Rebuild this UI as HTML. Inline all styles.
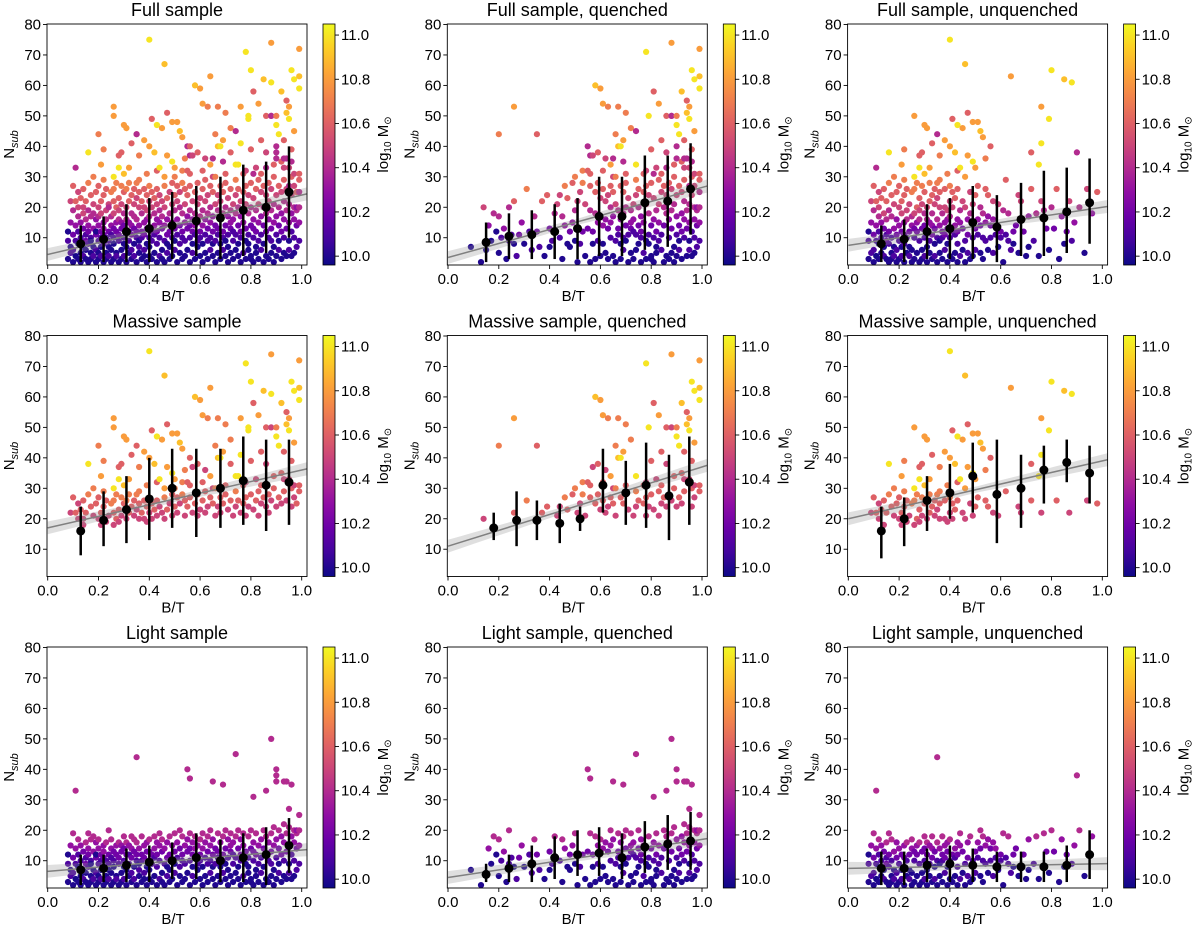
<!DOCTYPE html>
<html><head><meta charset="utf-8"><style>
html,body{margin:0;padding:0;background:#fff;}
svg{display:block;font-family:"Liberation Sans","DejaVu Sans",sans-serif;}
</style></head><body>
<svg id="fig" width="1200" height="931" viewBox="0 0 1200 931" xmlns="http://www.w3.org/2000/svg">
<defs>
<linearGradient id="plasma" x1="0" y1="1" x2="0" y2="0">
<stop offset="0" stop-color="#0d0887"/><stop offset="0.1" stop-color="#41049d"/><stop offset="0.2" stop-color="#6a00a8"/><stop offset="0.3" stop-color="#8f0da4"/><stop offset="0.4" stop-color="#b12a90"/><stop offset="0.5" stop-color="#cc4778"/><stop offset="0.6" stop-color="#e16462"/><stop offset="0.7" stop-color="#f2844b"/><stop offset="0.8" stop-color="#fca636"/><stop offset="0.9" stop-color="#fcce25"/><stop offset="1" stop-color="#f0f921"/>
</linearGradient>
</defs>
</svg>
<script>
// ---- data ----
const galaxyColumns = [
[0.08,[[3,10.0,0],[9,10.1,0],[12,10.0,0]]],
[0.09,[[5,10.1,0],[15,10.3,0],[22,10.5,0],[7,10.0,1]]],
[0.10,[[2,10.0,0],[11,10.2,0],[19,10.4,0],[27,10.6,0],[6,10.1,0]]],
[0.11,[[4,9.98,0],[14,10.3,0],[33,10.4,0],[9,10.1,0],[22,10.6,0]]],
[0.12,[[3,10.0,0],[8,10.0,0],[17,10.4,0],[12,10.1,0],[25,10.5,0],[20,10.5,0]]],
[0.13,[[5,10.0,0],[10,10.1,0],[15,10.3,0],[2,10.0,1],[23,10.6,0]]],
[0.14,[[4,10.1,0],[13,10.2,0],[18,10.5,0],[7,10.0,0],[26,10.6,0],[20,10.5,1]]],
[0.15,[[3,10.0,0],[9,10.2,0],[16,10.4,0],[11,10.1,0],[22,10.6,0],[6,10.0,1]]],
[0.16,[[2,10.0,0],[12,10.2,0],[19,10.4,0],[8,10.1,0],[28,10.7,0],[14,10.3,1],[38,11.0,0]]],
[0.17,[[5,10.0,0],[10,10.1,0],[24,10.6,0],[17,10.4,0],[3,10.0,0],[9,10.0,1]]],
[0.18,[[4,10.1,0],[13,10.3,0],[21,10.5,0],[7,10.0,0],[18,10.4,1],[30,10.7,0]]],
[0.19,[[2,10.0,0],[11,10.2,0],[16,10.3,0],[25,10.6,0],[6,10.1,0],[12,10.0,1]]],
[0.20,[[3,10.0,0],[9,10.1,0],[14,10.3,0],[20,10.5,0],[27,10.6,0],[5,10.0,1],[17,10.4,1],[44,10.7,1]]],
[0.21,[[7,10.0,0],[12,10.2,0],[22,10.6,0],[4,10.1,0],[18,10.5,0],[10,10.1,1],[34,10.8,0]]],
[0.22,[[2,10.0,0],[8,10.1,0],[15,10.3,0],[24,10.6,0],[11,10.2,0],[13,10.3,1],[29,10.7,0],[39,10.7,0]]],
[0.23,[[5,10.0,0],[10,10.1,0],[19,10.5,0],[3,10.0,1],[26,10.6,0],[16,10.4,0]]],
[0.24,[[4,10.1,0],[12,10.2,0],[21,10.5,0],[7,10.0,0],[9,10.1,1],[20,10.4,1]]],
[0.25,[[2,10.0,0],[14,10.3,0],[17,10.4,0],[25,10.7,0],[6,10.0,0],[11,10.1,1]]],
[0.26,[[3,10.0,0],[10,10.1,0],[18,10.5,0],[26,10.7,0],[13,10.2,0],[8,10.0,1],[22,10.6,1],[53,10.8,1],[50,10.8,0],[30,11.0,0]]],
[0.27,[[5,10.0,0],[12,10.2,0],[20,10.6,0],[15,10.3,0],[28,10.7,0],[4,10.1,1]]],
[0.28,[[2,10.0,0],[9,10.1,0],[16,10.4,0],[23,10.6,0],[11,10.2,1],[19,10.5,0],[37,10.6,0],[33,11.0,0]]],
[0.29,[[6,10.0,0],[13,10.2,0],[21,10.5,0],[3,10.0,0],[27,10.7,0],[15,10.3,1],[38,10.6,0]]],
[0.30,[[4,10.1,0],[10,10.1,0],[18,10.4,0],[25,10.6,0],[8,10.0,1],[14,10.2,0],[47,10.8,0],[31,10.9,0]]],
[0.31,[[2,10.0,0],[12,10.2,0],[20,10.5,0],[7,10.0,0],[26,10.7,1],[16,10.4,0],[46,10.8,0]]],
[0.32,[[5,10.0,0],[9,10.1,0],[15,10.3,0],[22,10.6,0],[12,10.1,1],[28,10.7,0],[33,10.8,0]]],
[0.33,[[3,10.0,0],[11,10.2,0],[18,10.4,0],[24,10.6,0],[6,10.1,1],[14,10.3,0],[41,10.6,0]]],
[0.34,[[4,10.1,0],[13,10.2,0],[21,10.5,0],[8,10.0,0],[17,10.4,1],[26,10.6,0]]],
[0.35,[[2,10.0,0],[10,10.1,0],[16,10.4,0],[23,10.5,0],[12,10.2,1],[28,10.7,0],[44,10.6,1],[44,10.4,0]]],
[0.36,[[5,10.0,0],[9,10.0,0],[14,10.3,0],[20,10.5,0],[7,10.1,1],[25,10.6,0],[37,10.7,0],[29,10.7,0]]],
[0.37,[[3,10.0,0],[12,10.2,0],[18,10.4,0],[22,10.6,1],[10,10.1,0]]],
[0.38,[[6,10.1,0],[11,10.2,0],[15,10.3,0],[26,10.6,0],[4,10.0,1],[20,10.5,0],[42,10.8,0]]],
[0.39,[[2,10.0,0],[8,10.0,0],[13,10.2,0],[19,10.5,0],[24,10.6,1],[16,10.3,0],[31,10.7,0]]],
[0.40,[[4,10.0,0],[10,10.1,0],[17,10.4,0],[22,10.5,0],[7,10.0,1],[13,10.2,1],[27,10.7,0],[75,11.0,0],[40,10.8,0]]],
[0.41,[[3,10.0,0],[12,10.2,0],[20,10.5,0],[9,10.1,1],[25,10.6,0],[49,10.6,0]]],
[0.42,[[5,10.0,0],[14,10.3,0],[18,10.4,1],[11,10.1,0],[23,10.6,0],[38,10.9,0]]],
[0.43,[[2,10.0,0],[8,10.1,0],[16,10.3,0],[21,10.5,1],[12,10.2,0],[26,10.6,0],[47,11.0,0],[32,10.6,0]]],
[0.44,[[4,10.1,0],[10,10.1,1],[15,10.3,0],[19,10.4,0],[24,10.5,1],[33,11.0,0]]],
[0.45,[[6,10.0,0],[13,10.2,0],[17,10.4,1],[22,10.5,0],[3,10.0,1],[46,10.8,0]]],
[0.46,[[2,10.0,0],[9,10.1,0],[14,10.3,1],[20,10.5,0],[27,10.7,1],[67,10.9,0],[30,10.8,0]]],
[0.47,[[5,10.1,0],[11,10.2,0],[16,10.3,0],[23,10.6,1],[8,10.0,1],[51,10.6,0],[37,10.8,0]]],
[0.48,[[3,10.0,0],[12,10.2,1],[18,10.4,0],[25,10.5,0],[7,10.0,1]]],
[0.49,[[4,10.0,0],[10,10.1,0],[15,10.3,1],[21,10.5,0],[28,10.6,1],[48,10.8,0],[35,11.0,0]]],
[0.50,[[6,10.1,0],[13,10.2,0],[19,10.4,1],[9,10.0,1],[24,10.6,0],[30,10.7,1],[33,10.8,0]]],
[0.51,[[2,10.0,1],[11,10.1,0],[16,10.3,0],[22,10.5,1],[27,10.6,0],[48,10.8,0]]],
[0.52,[[5,10.0,0],[8,10.1,1],[14,10.2,0],[20,10.4,0],[25,10.5,1],[45,10.9,0]]],
[0.53,[[3,10.0,0],[12,10.2,1],[18,10.4,0],[10,10.1,0],[28,10.7,1],[43,10.8,0],[32,10.7,1]]],
[0.54,[[4,10.0,1],[9,10.1,0],[15,10.3,0],[21,10.5,1],[26,10.6,0],[36,10.7,0]]],
[0.55,[[6,10.0,0],[13,10.2,1],[17,10.3,0],[24,10.6,0],[32,10.6,1],[40,10.4,1]]],
[0.56,[[2,10.0,1],[10,10.1,0],[19,10.4,1],[14,10.2,0],[27,10.6,1],[40,10.6,0],[31,10.6,1],[37,10.4,1]]],
[0.57,[[5,10.1,0],[12,10.2,1],[16,10.3,0],[22,10.5,0],[8,10.0,1],[37,10.5,1]]],
[0.58,[[3,10.0,1],[11,10.1,0],[18,10.4,1],[25,10.6,1],[14,10.3,0],[60,10.9,1]]],
[0.59,[[7,10.0,0],[9,10.1,1],[15,10.3,1],[21,10.5,0],[28,10.6,1],[38,10.6,1]]],
[0.60,[[4,10.0,1],[12,10.2,0],[17,10.4,1],[23,10.5,1],[10,10.1,0],[59,10.8,1]]],
[0.61,[[2,10.0,0],[8,10.0,1],[14,10.3,1],[19,10.4,0],[26,10.6,1],[54,10.8,1],[32,10.6,1]]],
[0.62,[[5,10.0,1],[11,10.1,0],[16,10.3,1],[22,10.5,1],[29,10.6,0],[36,10.5,1]]],
[0.63,[[3,10.0,1],[13,10.2,1],[18,10.4,0],[24,10.5,1],[9,10.1,0],[53,10.7,1]]],
[0.64,[[6,10.1,0],[10,10.1,1],[15,10.3,1],[20,10.4,1],[27,10.6,1],[63,10.8,0],[34,10.8,1]]],
[0.65,[[4,10.0,1],[12,10.2,0],[17,10.3,1],[25,10.6,1],[8,10.0,0],[30,10.5,1],[36,10.4,1]]],
[0.66,[[2,10.0,1],[9,10.1,1],[14,10.2,0],[21,10.5,1],[30,10.7,1],[44,10.7,1]]],
[0.67,[[5,10.0,0],[11,10.1,1],[19,10.4,1],[13,10.2,1],[24,10.5,0],[53,10.7,1],[40,10.9,1]]],
[0.68,[[3,10.0,1],[8,10.0,1],[16,10.3,1],[22,10.5,0],[27,10.6,1],[40,11.0,1]]],
[0.69,[[6,10.1,1],[12,10.2,0],[18,10.4,1],[10,10.1,1],[25,10.6,1],[42,10.8,1],[35,10.4,1]]],
[0.70,[[4,10.0,0],[14,10.2,1],[20,10.4,1],[28,10.6,1],[9,10.0,1],[51,10.7,1],[31,10.6,1]]],
[0.71,[[2,10.0,1],[11,10.1,1],[17,10.3,0],[23,10.5,1],[7,10.0,0]]],
[0.72,[[5,10.0,1],[13,10.2,1],[19,10.4,1],[26,10.6,0],[15,10.3,1],[46,10.7,1],[38,10.6,0]]],
[0.73,[[3,10.0,1],[9,10.1,0],[16,10.3,1],[21,10.5,1],[12,10.1,1]]],
[0.74,[[6,10.0,1],[11,10.1,1],[18,10.4,0],[24,10.5,1],[29,10.7,1],[34,11.0,1],[45,10.4,1]]],
[0.75,[[4,10.0,0],[8,10.0,1],[14,10.2,1],[20,10.4,1],[26,10.6,1],[34,11.0,0]]],
[0.76,[[2,10.0,1],[12,10.2,1],[17,10.3,1],[22,10.5,0],[10,10.1,1],[53,10.8,0],[41,11.0,0]]],
[0.77,[[5,10.1,1],[15,10.3,1],[19,10.4,0],[25,10.6,1],[31,10.6,1]]],
[0.78,[[3,10.0,1],[9,10.0,1],[13,10.2,0],[21,10.5,1],[27,10.6,1],[71,11.0,1],[32,10.5,1]]],
[0.79,[[6,10.0,0],[11,10.1,1],[18,10.4,1],[24,10.5,1],[8,10.0,1],[50,11.0,1],[49,11.0,0]]],
[0.80,[[4,10.0,1],[14,10.2,1],[20,10.4,0],[28,10.6,1],[3,10.0,1],[65,11.0,0],[39,10.6,1]]],
[0.81,[[2,10.0,1],[10,10.1,1],[16,10.3,1],[23,10.5,1],[13,10.2,0],[58,10.6,1],[31,10.4,1]]],
[0.82,[[5,10.0,1],[12,10.2,1],[19,10.4,1],[26,10.6,0],[7,10.0,1],[33,10.5,1]]],
[0.83,[[3,10.0,0],[9,10.1,1],[15,10.3,1],[21,10.5,1],[29,10.6,1],[54,10.8,1]]],
[0.84,[[6,10.1,1],[11,10.1,1],[17,10.3,0],[25,10.5,1],[31,10.6,1],[42,10.6,1]]],
[0.85,[[2,10.0,1],[14,10.2,1],[20,10.4,1],[8,10.0,0],[27,10.6,1],[62,10.9,0]]],
[0.86,[[4,10.0,1],[12,10.2,0],[18,10.4,1],[24,10.5,1],[33,10.4,1],[50,10.6,1],[38,10.5,1]]],
[0.87,[[3,10.0,1],[10,10.1,1],[16,10.3,1],[22,10.5,0],[28,10.6,1]]],
[0.88,[[5,10.0,1],[13,10.2,1],[19,10.4,1],[26,10.5,1],[9,10.1,0],[74,10.8,1],[61,11.0,0],[50,10.5,1],[50,10.4,1]]],
[0.89,[[2,10.0,1],[7,10.0,1],[15,10.3,0],[21,10.4,1],[30,10.6,1],[34,10.6,1]]],
[0.90,[[4,10.0,1],[11,10.1,1],[17,10.3,1],[24,10.5,1],[36,10.4,1],[50,10.7,1],[47,11.0,1],[40,10.4,1],[38,10.4,0]]],
[0.91,[[6,10.1,1],[14,10.2,1],[20,10.4,0],[27,10.6,1],[9,10.0,1],[44,11.0,1]]],
[0.92,[[3,10.0,1],[12,10.2,1],[18,10.3,1],[25,10.5,1],[35,10.6,1],[58,10.9,1]]],
[0.93,[[5,10.0,0],[10,10.1,1],[16,10.3,1],[22,10.4,1],[29,10.6,1],[42,10.6,1],[33,10.5,1],[36,10.4,1]]],
[0.94,[[4,10.0,1],[13,10.2,1],[19,10.4,1],[26,10.5,0],[36,10.4,1],[51,10.9,1],[55,10.6,1]]],
[0.95,[[6,10.1,1],[9,10.0,1],[15,10.3,1],[21,10.4,1],[33,10.5,1],[49,11.0,1],[53,10.8,1],[27,10.4,1]]],
[0.96,[[4,10.0,1],[12,10.1,1],[18,10.3,0],[24,10.5,1],[30,10.6,1],[65,11.0,1],[39,10.6,1],[35,10.4,1]]],
[0.97,[[5,10.0,1],[10,10.1,1],[16,10.3,1],[20,10.4,1],[27,10.5,1],[62,11.0,1],[45,10.8,1],[31,10.5,1]]],
[0.98,[[7,10.1,1],[14,10.2,1],[19,10.4,1],[25,10.6,0],[20,10.3,1]]],
[0.99,[[9,10.1,1],[15,10.3,1],[20,10.4,1],[31,10.6,1],[72,10.8,1],[63,10.9,1],[59,11.0,1],[29,10.6,1],[25,10.4,1]]]
];
const panelTitles = ["Full sample","Full sample, quenched","Full sample, unquenched","Massive sample","Massive sample, quenched","Massive sample, unquenched","Light sample","Light sample, quenched","Light sample, unquenched"];
const binXA = [0.13,0.22,0.31,0.40,0.49,0.585,0.68,0.77,0.86,0.95];
const binXQ = [0.15,0.24,0.33,0.42,0.51,0.595,0.685,0.775,0.865,0.955];
const binXMQ = [0.18,0.27,0.35,0.44,0.52,0.61,0.70,0.78,0.87,0.95];
const binMeans = [
[8,9.5,12,13,14,15.5,16.5,19,20,25],
[8.5,10.5,11,12,13,17,17,21.5,22,26],
[8,9.5,12,13,15,13.5,16,16.5,18.5,21.5],
[16,19.5,23,26.5,30,28.5,30,32.5,31,32],
[17,19.5,19.5,18.5,20,31,28.5,31,27.5,32],
[16,20,26,28.5,34,28,30,36,38.5,35],
[7,7.5,8.5,9.5,10,11,10,11,12,15],
[5.5,7.5,9,11,12,12.5,11,14.5,15.5,16.5],
[7.5,7.5,8.5,9,8.5,8,8,8,8.5,12]];
const binLo = [
[2,2,2,2,3,4,3,4,5,10],
[2,3,3,3,3,4,4,6,7,11],
[2,2,3,3,3,2,4,4,5,8],
[8,11,12,13,17,14,17,18,16,18],
[13,11,13,12,16,22,18,17,13,18],
[7,11,16,20,22,12,17,25,32,25],
[2,3,3,3,4,4,3,3,2,6],
[3,3,3,4,5,5,4,6,7,7],
[2,2,3,3,3,3,3,3,3,4]];
const binHi = [
[14,17,21,23,25,27,30,34,35,40],
[15,18,19,21,23,30,30,37,37,41],
[14,16,21,23,27,24,28,32,33,36],
[24,29,34,40,43,43,43,47,46,46],
[22,29,26,25,24,43,39,45,41,47],
[24,27,34,38,45,46,41,44,46,44],
[12,12,14,15,16,19,17,19,21,24],
[9,12,15,18,20,21,19,23,25,26],
[13,13,14,15,14,13,13,13,15,20]];
const fitIntercepts = [4.5,3.5,7.5,17,11,20,6.5,4.5,7.5];
const fitSlopes = [19.5,23,12.5,19,26,19,7,12.5,1.5];
const xTicks = [0,0.2,0.4,0.6,0.8,1.0];
const yTicks = [10,20,30,40,50,60,70,80];
const cbTicks = [10.0,10.2,10.4,10.6,10.8,11.0];

// ---- helpers ----
const NS = "http://www.w3.org/2000/svg";
const svg = document.getElementById("fig");
function mk(tag, attrs, parent){const e=document.createElementNS(NS,tag);for(const k in attrs)e.setAttribute(k,attrs[k]);(parent||svg).appendChild(e);return e;}
const stops=[[13,8,135],[65,4,157],[106,0,168],[143,13,164],[177,42,144],[204,71,120],[225,100,98],[242,132,75],[252,166,54],[252,206,37],[240,249,33]];
const MMIN=9.96, MMAX=11.05;
function plasma(m){let t=(m-MMIN)/(MMAX-MMIN);t=Math.max(0,Math.min(1,t))*10;const i=Math.min(9,Math.floor(t));const f=t-i;const a=stops[i],b=stops[i+1];return `rgb(${Math.round(a[0]+(b[0]-a[0])*f)},${Math.round(a[1]+(b[1]-a[1])*f)},${Math.round(a[2]+(b[2]-a[2])*f)})`;}
const galaxies=[];
galaxyColumns.forEach(c=>c[1].forEach(p=>galaxies.push([c[0],p[0],p[1],p[2]])));

const rowTops=[24,335.5,647], PW=260, PH=241;
function panelFilter(i,g){const r=Math.floor(i/3),c=i%3;
  if(r===1&&g[2]<10.45)return false; if(r===2&&g[2]>=10.45)return false;
  if(c===1&&g[3]!==1)return false; if(c===2&&g[3]!==0)return false; return true;}

for(let i=0;i<9;i++){
  const r=Math.floor(i/3),c=i%3;
  const L=47+400.3*c, T=rowTops[r];
  const xs=v=>L+0.7+v*254, ys=v=>T+(80-v)*3.046+0.5;
  const g=mk("g",{});
  
  
  const clipId='clip'+i;
  const cp=mk("clipPath",{id:clipId},g);mk("rect",{x:L,y:T,width:PW,height:PH},cp);
  const ttl=mk("text",{x:L+PW/2,y:T-8,"text-anchor":"middle","font-size":18,fill:"#000"},g);ttl.textContent=panelTitles[i];
  
  
  const pts=mk("g",{"clip-path":`url(#${clipId})`},g);
  
  
  galaxies.forEach(gl=>{if(!panelFilter(i,gl))return;
    const d=mk("circle",{cx:xs(gl[0]).toFixed(1),cy:ys(gl[1]).toFixed(1),r:3.1,fill:plasma(gl[2])},pts);
    
    });
  const a=fitIntercepts[i], b=fitSlopes[i];
  const band=[];const x0=0,x1=1.02;
  for(let k=0;k<=20;k++){const x=x0+(x1-x0)*k/20;const w=1.0+2.2*Math.abs(x-0.5);band.push(`${xs(x).toFixed(1)},${ys(a+b*x+w).toFixed(1)}`);}
  for(let k=20;k>=0;k--){const x=x0+(x1-x0)*k/20;const w=1.0+2.2*Math.abs(x-0.5);band.push(`${xs(x).toFixed(1)},${ys(a+b*x-w).toFixed(1)}`);}
  const bd=mk("polygon",{points:band.join(" "),fill:"rgba(150,150,150,0.3)","clip-path":`url(#${clipId})`},g);
  
  
  const ln=mk("line",{x1:xs(x0),y1:ys(a),x2:xs(x1),y2:ys(a+b*x1),stroke:"#808080","stroke-width":1.5,"clip-path":`url(#${clipId})`},g);
  
  
  const bx = (i===4)?binXMQ:(c===1?binXQ:binXA);
  for(let k=0;k<10;k++){
    const e=mk("line",{x1:xs(bx[k]),x2:xs(bx[k]),y1:ys(binLo[i][k]),y2:ys(binHi[i][k]),stroke:"#000","stroke-width":2.5},g);
    
    
    const m=mk("circle",{cx:xs(bx[k]),cy:ys(binMeans[i][k]),r:4.5,fill:"#000"},g);
    
    
  }
  const fr=mk("rect",{x:L,y:T,width:PW,height:PH,fill:"none",stroke:"#000","stroke-width":0.9},g);
  
  
  xTicks.forEach(t=>{const x=xs(t);mk("line",{x1:x,x2:x,y1:T+PH,y2:T+PH+4,stroke:"#000","stroke-width":0.9},g);
    const tl=mk("text",{x:x,y:T+PH+19,"text-anchor":"middle","font-size":15},g);tl.textContent=t.toFixed(1);
    
    });
  yTicks.forEach(t=>{const y=ys(t);mk("line",{x1:L-4,x2:L,y1:y,y2:y,stroke:"#000","stroke-width":0.9},g);
    const tl=mk("text",{x:L-6,y:y+5,"text-anchor":"end","font-size":15},g);tl.textContent=t;
    
    });
  const xl=mk("text",{x:L+PW/2-4,y:T+PH+36,"text-anchor":"middle","font-size":15},g);xl.textContent="B/T";
  
  
  const yl=mk("text",{transform:`translate(${L-33},${T+PH/2}) rotate(-90)`,"text-anchor":"middle","font-size":15},g);
  
  
  yl.appendChild(document.createTextNode("N"));
  const sub=mk("tspan",{"font-size":11,"font-style":"italic",dy:4},yl);sub.textContent="sub";
  const cbx=L+276;
  const cb=mk("rect",{x:cbx,y:T,width:12,height:PH,fill:"url(#plasma)",stroke:"#000","stroke-width":0.8},g);
  
  
  cbTicks.forEach(t=>{const y=T+(MMAX-t)/(MMAX-MMIN)*PH;mk("line",{x1:cbx+12,x2:cbx+16,y1:y,y2:y,stroke:"#000","stroke-width":0.9},g);
    const tl=mk("text",{x:cbx+18,y:y+5,"font-size":15},g);tl.textContent=t.toFixed(1);
    
    });
  const cl=mk("text",{transform:`translate(${L+341},${T+PH/2}) rotate(-90)`,"text-anchor":"middle","font-size":15},g);
  
  
  cl.appendChild(document.createTextNode("log"));
  const s2=mk("tspan",{"font-size":10,dy:3},cl);s2.textContent="10";
  const s3=mk("tspan",{dy:-3},cl);s3.textContent=" M";
  const s4=mk("tspan",{"font-size":10,dy:3},cl);s4.textContent="⊙";
}
</script>
</body></html>
